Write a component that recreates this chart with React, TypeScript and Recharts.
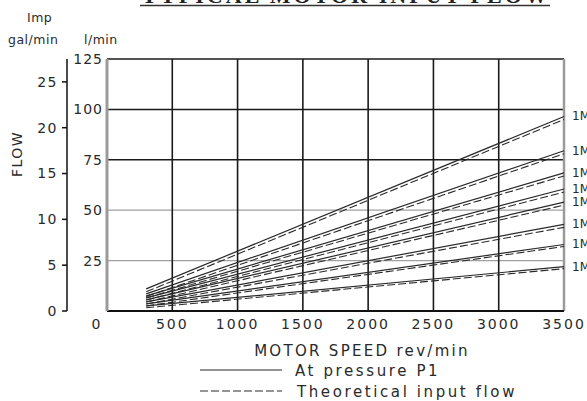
import React from 'react';
import { LineChart, Line, XAxis, YAxis, ReferenceLine } from 'recharts';

const speeds = [300, 3500];
// flow (l/min) at 300 and 3500 rev/min, one pair per motor, top to bottom
const pressureFlow = [
    [11, 96.5],
    [8.5, 79.5],
    [7.5, 68.5],
    [6.5, 60.5],
    [5.5, 54],
    [4.5, 43],
    [3.5, 33],
    [2.5, 22]
];
const theoreticalFlow = [
    [9.5, 95],
    [7.2, 78],
    [6.5, 67],
    [5.5, 59],
    [4.5, 52.5],
    [3.5, 41.5],
    [2.5, 32],
    [1.6, 21]
];
const motorLabels = ['1M', '1M', '1M', '1M', '1M', '1M', '1M', '1M'];
const speedTicks = [0, 500, 1000, 1500, 2000, 2500, 3000, 3500];
const litreTicks = [25, 50, 75, 100, 125];
const gallonTicks = [0, 5, 10, 15, 20, 25];
const gridSpeeds = [500, 1000, 1500, 2000, 2500, 3000];
const gridFlows = [25, 50, 75, 100, 125];
const LITRES_PER_GALLON = 4.546;

const data = speeds.map((speed, i) => {
    const row: Record<string, number> = { speed };
    pressureFlow.forEach((pair, k) => {
        row[`p${k}`] = pair[i];
    });
    theoreticalFlow.forEach((pair, k) => {
        row[`t${k}`] = pair[i];
    });
    return row;
});

const font = '"DejaVu Sans", sans-serif';
const ink = '#2a2a2a';

const SpeedTick = (props: any) => {
    const { x, y, payload } = props;
    return (
        <text
            x={payload.value === 0 ? x - 10 : x}
            y={y}
            dy="0.71em"
            textAnchor="middle"
            fontSize={14}
            letterSpacing={2}
            fill={ink}
            fontFamily={font}
        >
            {payload.value}
        </text>
    );
};

const App = () => {
    return (
        <div style={{ position: 'relative', width: 587, height: 401, background: '#fff' }}>
            <style>{'body{margin:0}'}</style>
            <LineChart
                width={587}
                height={401}
                data={data}
                margin={{ top: 59, right: 23, bottom: 0, left: 0 }}
            >
                <XAxis
                    dataKey="speed"
                    type="number"
                    domain={[0, 3500]}
                    ticks={speedTicks}
                    tick={<SpeedTick />}
                    tickLine={false}
                    axisLine={{ stroke: '#111', strokeWidth: 2 }}
                    height={90}
                />
                <YAxis
                    yAxisId="flow"
                    domain={[0, 125]}
                    ticks={litreTicks}
                    width={40}
                    tickLine={false}
                    tickSize={2}
                    tickMargin={2}
                    axisLine={{ stroke: '#9a9a9a', strokeWidth: 3 }}
                    tick={{ fontSize: 14, fill: ink, fontFamily: font, letterSpacing: 1 }}
                />
                <YAxis
                    yAxisId="gal"
                    domain={[0, 125 / LITRES_PER_GALLON]}
                    ticks={gallonTicks}
                    width={67}
                    tickSize={5}
                    tickMargin={4}
                    allowDataOverflow
                    axisLine={{ stroke: '#111', strokeWidth: 1.5 }}
                    tickLine={{ stroke: '#111', strokeWidth: 1.5 }}
                    tick={{ fontSize: 14, fill: ink, fontFamily: font, letterSpacing: 1.5 }}
                />
                {gridFlows.map((v) => (
                    <ReferenceLine
                        key={`h${v}`}
                        yAxisId="flow"
                        y={v}
                        stroke={v >= 75 ? '#1a1a1a' : '#a0a0a0'}
                        strokeWidth={v >= 75 ? 1.5 : 1.3}
                    />
                ))}
                {gridSpeeds.map((v) => (
                    <ReferenceLine key={`v${v}`} yAxisId="flow" x={v} stroke="#1a1a1a" strokeWidth={1.6} />
                ))}
                <ReferenceLine yAxisId="flow" x={3500} stroke="#9a9a9a" strokeWidth={2.5} />
                {theoreticalFlow.map((_, k) => (
                    <Line
                        key={`t${k}`}
                        yAxisId="flow"
                        dataKey={`t${k}`}
                        stroke={ink}
                        strokeWidth={1.1}
                        strokeDasharray="8 3"
                        dot={false}
                        isAnimationActive={false}
                    />
                ))}
                {pressureFlow.map((_, k) => (
                    <Line
                        key={`p${k}`}
                        yAxisId="flow"
                        dataKey={`p${k}`}
                        stroke={ink}
                        strokeWidth={1.2}
                        dot={false}
                        isAnimationActive={false}
                        label={(props: any) =>
                            props.index === speeds.length - 1 ? (
                                <text
                                    key={`lab${k}`}
                                    x={props.x + 8}
                                    y={props.y + 4}
                                    fontSize={12}
                                    fill={ink}
                                    fontFamily={font}
                                >
                                    {motorLabels[k]}
                                </text>
                            ) : null
                        }
                    />
                ))}
            </LineChart>
            <svg
                width={587}
                height={401}
                style={{ position: 'absolute', left: 0, top: 0, pointerEvents: 'none' }}
            >
                <text
                    x={142}
                    y={3}
                    fontSize={22}
                    fontWeight="bold"
                    fontFamily='"Liberation Serif", serif'
                    textLength={405}
                    fill="#222"
                >
                    TYPICAL MOTOR INPUT FLOW
                </text>
                <line x1={140} x2={550} y1={5.5} y2={5.5} stroke="#333" strokeWidth={1.5} />
                <g fontFamily={font} fill={ink} fontSize={12.5}>
                    <text x={27} y={22} letterSpacing={0.5}>Imp</text>
                    <text x={8} y={44} letterSpacing={0.5}>gal/min</text>
                    <text x={84} y={44} letterSpacing={0.5}>l/min</text>
                </g>
                <text
                    x={22}
                    y={154}
                    transform="rotate(-90 22 154)"
                    textAnchor="middle"
                    fontSize={14}
                    letterSpacing={1.5}
                    fontFamily={font}
                    fill={ink}
                >
                    FLOW
                </text>
                <text
                    x={362}
                    y={356}
                    textAnchor="middle"
                    fontSize={15}
                    letterSpacing={2.3}
                    fontFamily={font}
                    fill={ink}
                >
                    MOTOR SPEED rev/min
                </text>
                <line x1={200} x2={282} y1={370} y2={370} stroke={ink} strokeWidth={1.2} />
                <text x={295} y={376} fontSize={15} letterSpacing={2.6} fontFamily={font} fill={ink}>
                    At pressure P1
                </text>
                <line
                    x1={200}
                    x2={282}
                    y1={391}
                    y2={391}
                    stroke={ink}
                    strokeWidth={1}
                    strokeDasharray="8 3"
                />
                <text x={297} y={397} fontSize={15} letterSpacing={2.6} fontFamily={font} fill={ink}>
                    Theoretical input flow
                </text>
            </svg>
        </div>
    );
};

export default App;
